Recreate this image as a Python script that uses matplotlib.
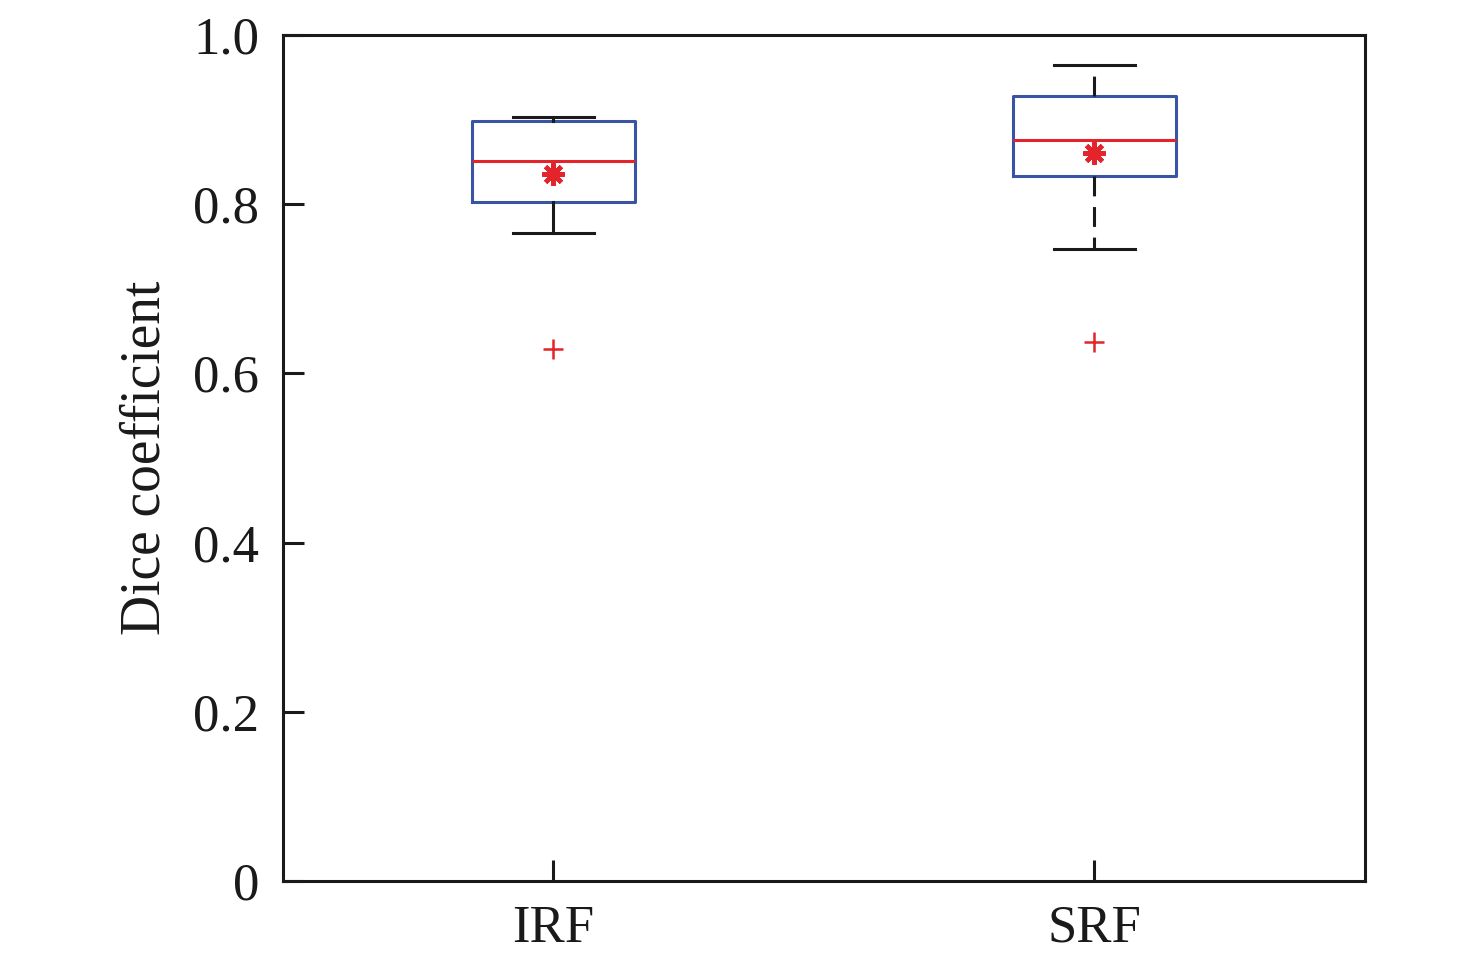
import os
import matplotlib
matplotlib.use("Agg")
import matplotlib.pyplot as plt
from matplotlib import font_manager

categories = ["IRF", "SRF"]
q1 = [0.803, 0.833]
med = [0.851, 0.876]
q3 = [0.898, 0.928]
whislo = [0.766, 0.747]
whishi = [0.903, 0.965]
means = [0.836, 0.861]
fliers = [[0.629], [0.637]]

fpath = '/usr/share/fonts/truetype/liberation/LiberationSerif-Regular.ttf'
if os.path.exists(fpath):
    fp = font_manager.FontProperties(fname=fpath, size=38)
    fpl = font_manager.FontProperties(fname=fpath, size=40)
else:
    fp = font_manager.FontProperties(family='Liberation Serif', size=38)
    fpl = font_manager.FontProperties(family='Liberation Serif', size=40)

fig = plt.figure(figsize=(14.76, 9.65), dpi=100)
ax = fig.add_axes([0.1917, 0.0870, 0.9248 - 0.1917, 0.9637 - 0.0870])

stats = []
for i, c in enumerate(categories):
    stats.append(dict(label=c, q1=q1[i], med=med[i], q3=q3[i],
                      whislo=whislo[i], whishi=whishi[i],
                      mean=means[i], fliers=fliers[i]))

box_color = '#3a54a4'
red = '#e3242b'
res = ax.bxp(stats, positions=[1, 2], widths=0.3, capwidths=0.15,
             showmeans=True, showfliers=True,
             boxprops=dict(color=box_color, linewidth=2.2),
             medianprops=dict(color=red, linewidth=2.2),
             whiskerprops=dict(color='#1a1a1a', linewidth=2.2, linestyle=(0, (6.5, 3.5))),
             capprops=dict(color='#1a1a1a', linewidth=2.2),
             meanprops=dict(marker=(8, 2, 0), markeredgecolor=red, markerfacecolor=red,
                            markersize=16, markeredgewidth=3.2),
             flierprops=dict(marker='+', markeredgecolor=red, markersize=15,
                             markeredgewidth=1.8))
for w in res['whiskers'][:2]:
    w.set_linestyle('-')

ax.set_xlim(0.5, 2.5)
ax.set_ylim(0, 1.0)
ax.set_yticks([0, 0.2, 0.4, 0.6, 0.8, 1.0])
ax.set_yticklabels(['0', '0.2', '0.4', '0.6', '0.8', '1.0'], fontproperties=fp)
ax.set_xticks([1, 2])
ax.set_xticklabels(categories, fontproperties=fp)
ax.tick_params(direction='in', length=15, width=2.2, pad=17,
               top=False, right=False, colors='#1a1a1a')
for s in ax.spines.values():
    s.set_linewidth(2.2)
    s.set_color('#1a1a1a')
ax.set_ylabel('Dice coefficient', fontproperties=fpl, color='#1a1a1a', labelpad=16)

fig.savefig('out.png', dpi=100)
